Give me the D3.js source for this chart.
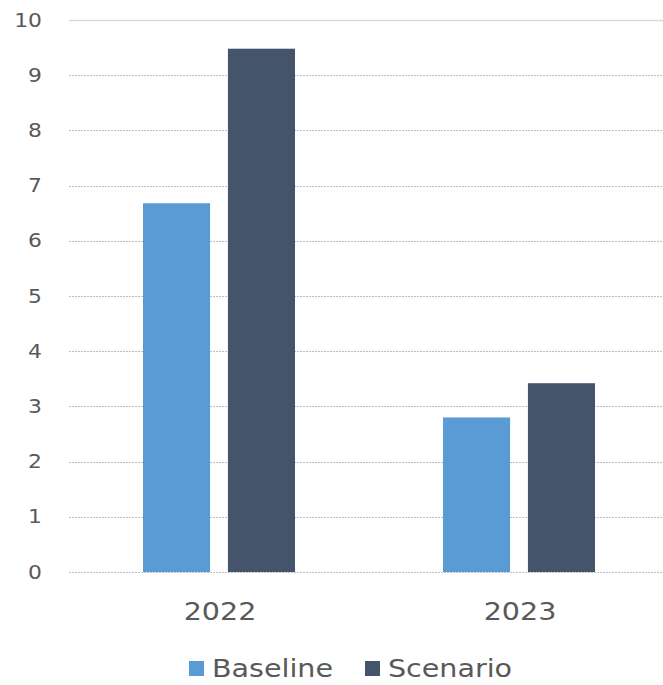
<!DOCTYPE html>
<html>
<head>
<meta charset="utf-8">
<script src="https://cdn.jsdelivr.net/npm/d3@7"></script>
<style>
  body { margin: 0; background: #fff; }
  svg { display: block; font-family: "DejaVu Sans", Verdana, sans-serif; }
</style>
</head>
<body>
<svg id="chart" width="663" height="685"></svg>
<script>
const years = ["2022", "2023"];
const seriesNames = ["Baseline", "Scenario"];
const baseline = [6.68, 2.8];
const scenario = [9.48, 3.42];
const yTicks = [0, 1, 2, 3, 4, 5, 6, 7, 8, 9, 10];
const colors = ["#5B9BD5", "#44546A"];

const svg = d3.select("#chart");
const width = 663;
const height = 685;
const margin = { top: 20, right: -6, bottom: 113, left: 69 };
const stretch = 1.19; // text in the original is drawn a little wide

const x = d3.scaleBand()
  .domain(years)
  .range([margin.left, width - margin.right]);

const x1 = d3.scaleBand()
  .domain(seriesNames)
  .range([74, 300 - 74])
  .paddingInner(0.21);

const y = d3.scaleLinear()
  .domain([0, 10])
  .range([height - margin.bottom, margin.top]);

// gridlines
svg.append("g")
  .selectAll("line")
  .data(yTicks)
  .join("line")
  .attr("x1", margin.left)
  .attr("x2", width)
  .attr("y1", d => Math.round(y(d)) + 0.5)
  .attr("y2", d => Math.round(y(d)) + 0.5)
  .attr("stroke", d => d === 10 ? "#d9d9d9" : "#bfbfbf")
  .attr("stroke-width", d => d === 10 ? 1.5 : 1)
  .attr("stroke-dasharray", d => d === 10 ? null : "2,1");

// y labels
svg.append("g")
  .selectAll("text")
  .data(yTicks)
  .join("text")
  .attr("transform", d => `translate(42,${y(d)}) scale(1.15,1)`)
  .attr("dy", "0.35em")
  .attr("text-anchor", "end")
  .style("font-size", "19px")
  .style("fill", "#595959")
  .text(d => d);

const values = { Baseline: baseline, Scenario: scenario };

const groups = svg.append("g")
  .selectAll("g")
  .data(years)
  .join("g")
  .attr("transform", d => `translate(${x(d)},0)`);

groups.selectAll("rect")
  .data((d, i) => seriesNames.map((s, k) => ({ s, k, v: values[s][i] })))
  .join("rect")
  .attr("x", d => x1(d.s))
  .attr("width", x1.bandwidth())
  .attr("y", d => y(d.v))
  .attr("height", d => y(0) - y(d.v))
  .attr("fill", d => colors[d.k]);

// x labels
svg.append("g")
  .selectAll("text")
  .data(years)
  .join("text")
  .attr("transform", d => `translate(${x(d) + 151},612) scale(${stretch},1)`)
  .attr("dy", "0.35em")
  .attr("text-anchor", "middle")
  .style("font-size", "24px")
  .style("fill", "#595959")
  .text(d => d);

// legend
const legend = svg.append("g");
const legX = [189, 365];
seriesNames.forEach((s, i) => {
  legend.append("rect")
    .attr("x", legX[i])
    .attr("y", 661)
    .attr("width", 15)
    .attr("height", 15)
    .attr("fill", colors[i]);
  legend.append("text")
    .attr("transform", `translate(${legX[i] + 23},669) scale(${stretch},1)`)
    .attr("dy", "0.35em")
    .style("font-size", "24px")
    .style("fill", "#595959")
    .text(s);
});
</script>
</body>
</html>
